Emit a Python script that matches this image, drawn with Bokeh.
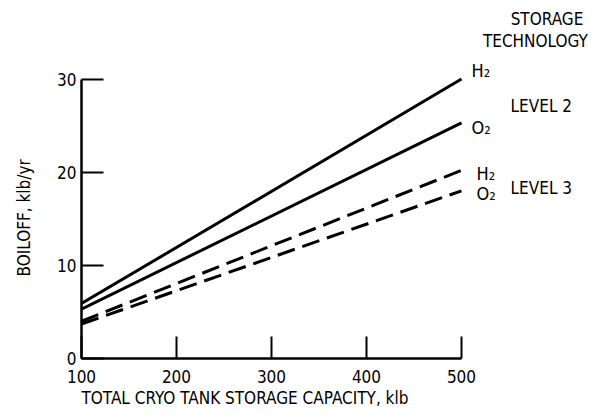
from bokeh.plotting import figure
from bokeh.models import Range1d, FixedTicker, Label, Title
from bokeh.embed import file_html
from bokeh.resources import INLINE

# ---- data ----
capacity = [100, 500]
h2_level2 = [5.9, 30.0]
o2_level2 = [5.3, 25.3]
h2_level3 = [4.0, 20.2]
o2_level3 = [3.7, 18.0]
x_ticks = [100, 200, 300, 400, 500]
y_ticks = [0, 10, 20, 30]
series_names = ["H\u2082", "O\u2082", "H\u2082", "O\u2082"]
level_names = ["LEVEL 2", "LEVEL 3"]
header = ["STORAGE", "TECHNOLOGY"]
x_title = "TOTAL CRYO TANK STORAGE CAPACITY, klb"
y_title = "BOILOFF, klb/yr"

FONT = "DejaVu Sans Condensed"

p = figure(width=588, height=407, output_backend="svg", toolbar_location=None,
           title_location=None,
           x_range=Range1d(100, 633.7), y_range=Range1d(0, 37.47),
           min_border_left=81, min_border_right=0, min_border_top=9, min_border_bottom=47)
p.outline_line_color = None
p.xgrid.visible = False
p.ygrid.visible = False
p.background_fill_color = "white"

for ax, ticks, bounds in ((p.xaxis[0], x_ticks, (100, 500)), (p.yaxis[0], y_ticks, (0, 30))):
    ax.ticker = FixedTicker(ticks=ticks)
    ax.bounds = bounds
    ax.axis_line_width = 2.5
    ax.axis_line_color = "black"
    ax.major_tick_line_width = 2
    ax.major_tick_line_color = "black"
    ax.major_tick_in = 22
    ax.major_tick_out = 0
    ax.minor_tick_line_color = None
    ax.major_label_text_font = FONT
    ax.major_label_text_font_size = "17px"
    ax.major_label_text_color = "black"

p.xaxis[0].major_label_standoff = 11
p.yaxis[0].major_label_standoff = 5
# spacer label on y axis keeps the title clear of the tick labels
p.yaxis[0].axis_label = " "
p.yaxis[0].axis_label_standoff = 8
p.yaxis[0].axis_label_text_font_size = "9px"
p.yaxis[0].axis_label_text_font = FONT

# axis titles as side titles (aligned to the axis start)
p.add_layout(Title(text=y_title, align="left", offset=82, standoff=0, vertical_align="bottom",
                   text_font=FONT, text_font_size="17px", text_font_style="normal",
                   text_color="black"), "left")
p.add_layout(Title(text=x_title, align="left", offset=0, standoff=0,
                   text_font=FONT, text_font_size="17px", text_font_style="normal",
                   text_color="black"), "below")

series = [h2_level2, o2_level2, h2_level3, o2_level3]
dashes = ["solid", "solid", "18 8", "18 8"]
label_offsets = [(10, 9), (10, -5), (15, -3), (15, -3)]
for vals, dash, name, (dx, dy) in zip(series, dashes, series_names, label_offsets):
    p.line(capacity, vals, line_color="black", line_width=3, line_dash=dash)
    p.add_layout(Label(x=capacity[-1], y=vals[-1], x_offset=dx, y_offset=dy, text=name,
                       text_font=FONT, text_font_size="18px", text_align="left",
                       text_baseline="middle", text_color="black"))

# storage technology header and level labels
p.add_layout(Label(x=590, y=36.5, text=header[0], text_font=FONT, text_font_size="17px",
                   text_align="center", text_baseline="middle", text_color="black"))
p.add_layout(Label(x=633, y=34.1, text=header[1], text_font=FONT, text_font_size="17px",
                   text_align="right", text_baseline="middle", text_color="black"))
level_y = [(h2_level2[-1] + o2_level2[-1]) / 2, (h2_level3[-1] + o2_level3[-1]) / 2]
for name, ly, dy in zip(level_names, level_y, (-5, -7)):
    p.add_layout(Label(x=584, y=ly, y_offset=dy, text=name, text_font=FONT,
                       text_font_size="17px", text_align="center", text_baseline="middle",
                       text_color="black"))

open("out.html", "w").write(file_html(p, INLINE))
